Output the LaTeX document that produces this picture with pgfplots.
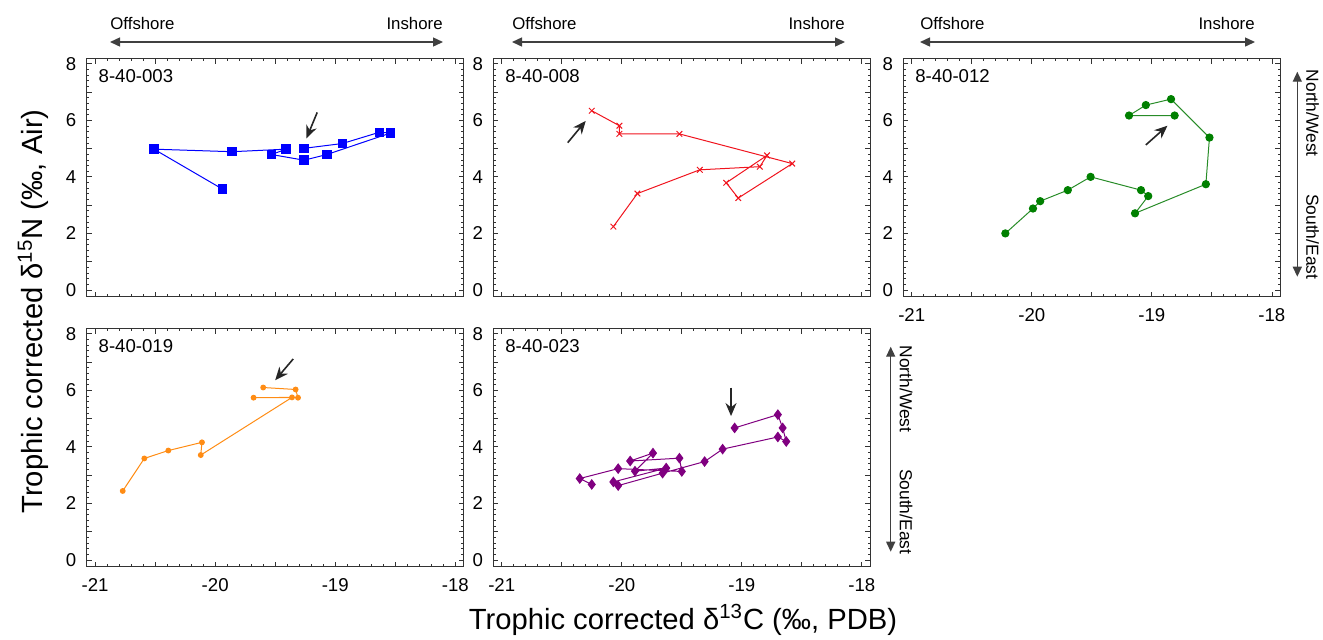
\documentclass[border=0pt]{standalone}
\usepackage{pgfplots}
\pgfplotsset{compat=1.18}
\usepackage{fontspec}
\setmainfont{Liberation Sans}
\usetikzlibrary{arrows.meta}

\definecolor{c1}{RGB}{0,0,255}
\definecolor{c2}{RGB}{240,20,30}
\definecolor{c3}{RGB}{0,128,0}
\definecolor{c3l}{RGB}{40,140,40}
\definecolor{c4}{RGB}{255,140,20}
\definecolor{c5}{RGB}{128,0,128}

\pgfplotsset{
  panel/.style={
    scale only axis, width=188.5pt, height=119pt,
    xmin=-21.07, xmax=-17.93, ymin=-0.24, ymax=8.18,
    xtick={-21,-20.5,-20,-19.5,-19,-18.5,-18},
    xticklabels={-21,,-20,,-19,,-18},
    ytick={0,1,2,3,4,5,6,7,8},
    yticklabels={0,,2,,4,,6,,8},
    minor x tick num=4, minor y tick num=4,
    major tick length=2.5pt, minor tick length=1.3pt,
    tick style={black!80, line width=0.4pt},
    axis line style={black!80, line width=0.6pt},
    every tick label/.append style={inner sep=0pt, font=\fontsize{9.3}{11}\selectfont},
    xticklabel style={yshift=-5.5pt},
    yticklabel style={xshift=-5pt},
    clip=false,
  },
  noxlab/.style={xticklabels={}},
}
\newcommand{\plab}[1]{\node[anchor=north west, inner sep=0pt, xshift=5.8pt, yshift=-5.35pt, font=\fontsize{9.3}{11}\selectfont] at (rel axis cs:0,1) {#1};}
\tikzset{ann/.style={-{Stealth[length=6.5pt,width=5.5pt]}, line width=0.8pt, black!85}}
\tikzset{side/.style={{Triangle[length=5pt,width=4.5pt]}-{Triangle[length=5pt,width=4.5pt]}, line width=0.7pt, black!75}}

\begin{document}
\begin{tikzpicture}
\useasboundingbox (0,0) rectangle (661.5pt,-319.5pt);

% Panel 1
\begin{axis}[panel, noxlab, at={(43.35pt,-148.35pt)}, anchor=south west]
\addplot[c1, line width=0.5pt, mark=square*, mark size=2.1pt] coordinates {
(-19.26,5.01) (-18.94,5.18) (-18.63,5.58) (-18.54,5.55) (-19.07,4.79) (-19.26,4.59)
(-19.53,4.79) (-19.41,4.98) (-19.86,4.89) (-20.51,4.98) (-19.94,3.57)};
\plab{8-40-003}
\draw[ann] (axis cs:-19.15,6.28) -- (axis cs:-19.24,5.36);
\end{axis}

% Panel 2
\begin{axis}[panel, noxlab, at={(246.65pt,-148.35pt)}, anchor=south west]
\addplot[c2, line width=0.5pt, mark=x, mark size=2pt] coordinates {
(-20.25,6.34) (-20.02,5.81) (-20.02,5.52) (-19.52,5.52) (-18.58,4.47) (-19.03,3.25)
(-19.13,3.79) (-18.79,4.76) (-18.85,4.36) (-19.35,4.25) (-19.87,3.41) (-20.07,2.24)};
\plab{8-40-008}
\draw[ann] (axis cs:-20.45,5.21) -- (axis cs:-20.30,5.98);
\end{axis}

% Panel 3
\begin{axis}[panel, at={(451.65pt,-148.35pt)}, anchor=south west]
\addplot[c3l, line width=0.5pt, mark=*, mark size=1.8pt, mark options={c3}] coordinates {
(-18.81,6.17) (-19.19,6.17) (-19.05,6.54) (-18.84,6.75) (-18.52,5.39) (-18.55,3.74)
(-19.14,2.71) (-19.03,3.32) (-19.09,3.53) (-19.51,4.00) (-19.70,3.53) (-19.93,3.14)
(-19.99,2.88) (-20.22,2.00)};
\plab{8-40-012}
\draw[ann] (axis cs:-19.05,5.13) -- (axis cs:-18.87,5.81);
\end{axis}

% Panel 4
\begin{axis}[panel, at={(43.35pt,-283.35pt)}, anchor=south west]
\addplot[c4, line width=0.5pt, mark=*, mark size=1.2pt] coordinates {
(-19.60,6.10) (-19.33,6.03) (-19.31,5.74) (-19.68,5.74) (-19.36,5.75) (-20.12,3.71)
(-20.11,4.16) (-20.39,3.87) (-20.59,3.59) (-20.77,2.44)};
\plab{8-40-019}
\draw[ann] (axis cs:-19.35,7.11) -- (axis cs:-19.50,6.36);
\end{axis}

% Panel 5
\begin{axis}[panel, at={(246.65pt,-283.35pt)}, anchor=south west]
\addplot[c5, line width=0.5pt, mark=diamond*, mark size=2.3pt] coordinates {
(-19.06,4.67) (-18.70,5.14) (-18.66,4.67) (-18.63,4.19) (-18.70,4.35) (-19.16,3.92)
(-19.31,3.48) (-19.66,3.07) (-20.03,2.63) (-20.07,2.76) (-19.63,3.25) (-19.89,3.14)
(-19.74,3.78) (-19.93,3.50) (-19.52,3.60) (-19.50,3.13) (-20.03,3.23) (-20.35,2.88)
(-20.25,2.67)};
\plab{8-40-023}
\draw[ann] (axis cs:-19.09,6.10) -- (axis cs:-19.09,5.09);
\end{axis}

% Offshore / Inshore arrows
\foreach \a/\b in {55/221.5, 256/422.5, 460/627.5}{
  \draw[side] (\a pt,-21pt) -- (\b pt,-21pt);
  \node[anchor=west, inner sep=0pt, font=\fontsize{8.4}{10}\selectfont] at (\a pt,-11.5pt) {Offshore};
  \node[anchor=east, inner sep=0pt, font=\fontsize{8.4}{10}\selectfont] at (\b pt,-11.5pt) {Inshore};
}

% North/West - South/East arrows
\draw[side] (648.65pt,-35.85pt) -- (648.65pt,-138.35pt);
\node[rotate=-90, inner sep=0pt, font=\fontsize{8.7}{10}\selectfont] at (656.35pt,-56.65pt) {North/West};
\node[rotate=-90, inner sep=0pt, font=\fontsize{8.7}{10}\selectfont] at (656.35pt,-118.35pt) {South/East};
\draw[side] (445.35pt,-173.35pt) -- (445.35pt,-275.85pt);
\node[rotate=-90, inner sep=0pt, font=\fontsize{8.7}{10}\selectfont] at (453pt,-194.5pt) {North/West};
\node[rotate=-90, inner sep=0pt, font=\fontsize{8.7}{10}\selectfont] at (453pt,-255.85pt) {South/East};

% Axis labels
\node[rotate=90, inner sep=0pt, font=\fontsize{14.6}{17}\selectfont] at (16.5pt,-155.75pt) {Trophic corrected δ\textsuperscript{15}N (‰, Air)};
\node[inner sep=0pt, font=\fontsize{14.6}{17}\selectfont] at (341.5pt,-310pt) {Trophic corrected δ\textsuperscript{13}C (‰, PDB)};
\end{tikzpicture}
\end{document}
